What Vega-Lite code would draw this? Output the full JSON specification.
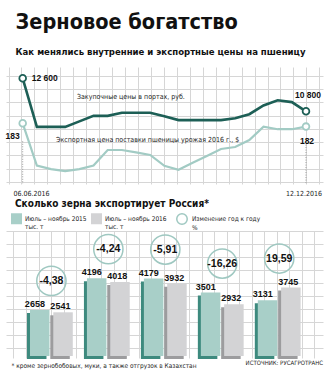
{
  "$schema": "https://vega.github.io/schema/vega-lite/v6.json",
  "background": "white",
  "padding": {"left": 5, "right": 5, "top": 12, "bottom": 4},
  "datasets": {
    "prices": [
      {"point": 0, "rub": 12600, "usd": 183},
      {"point": 1, "rub": 9950, "usd": 170.2},
      {"point": 2, "rub": 9950, "usd": 169.1},
      {"point": 3, "rub": 9950, "usd": 168.5},
      {"point": 4, "rub": 10250, "usd": 169.1},
      {"point": 5, "rub": 10550, "usd": 170.2},
      {"point": 6, "rub": 10550, "usd": 174.9},
      {"point": 7, "rub": 10720, "usd": 174.9},
      {"point": 8, "rub": 10720, "usd": 174.2},
      {"point": 9, "rub": 10720, "usd": 173.4},
      {"point": 10, "rub": 10530, "usd": 170.1},
      {"point": 11, "rub": 10320, "usd": 168.9},
      {"point": 12, "rub": 10320, "usd": 171},
      {"point": 13, "rub": 10320, "usd": 173.1},
      {"point": 14, "rub": 10320, "usd": 175.2},
      {"point": 15, "rub": 10420, "usd": 175.8},
      {"point": 16, "rub": 10640, "usd": 177.9},
      {"point": 17, "rub": 11120, "usd": 182},
      {"point": 18, "rub": 11400, "usd": 181.2},
      {"point": 19, "rub": 11300, "usd": 181.2},
      {"point": 20, "rub": 10800, "usd": 182}
    ],
    "exports": [
      {"group": 1, "period": "Июль – ноябрь 2015", "value": 2658},
      {"group": 1, "period": "Июль – ноябрь 2016", "value": 2541},
      {"group": 2, "period": "Июль – ноябрь 2015", "value": 4196},
      {"group": 2, "period": "Июль – ноябрь 2016", "value": 4018},
      {"group": 3, "period": "Июль – ноябрь 2015", "value": 4179},
      {"group": 3, "period": "Июль – ноябрь 2016", "value": 3932},
      {"group": 4, "period": "Июль – ноябрь 2015", "value": 3501},
      {"group": 4, "period": "Июль – ноябрь 2016", "value": 2932},
      {"group": 5, "period": "Июль – ноябрь 2015", "value": 3131},
      {"group": 5, "period": "Июль – ноябрь 2016", "value": 3745}
    ],
    "changes": [
      {"group": 1, "change": -4.38},
      {"group": 2, "change": -4.24},
      {"group": 3, "change": -5.91},
      {"group": 4, "change": -16.26},
      {"group": 5, "change": 19.59}
    ]
  },
  "title": {
    "text": "ИСТОЧНИК: РУСАГРОТРАНС",
    "orient": "bottom",
    "anchor": "end",
    "fontSize": 6,
    "fontWeight": "normal",
    "color": "#222",
    "offset": -9
  },
  "vconcat": [
    {
      "width": 317,
      "height": 117,
      "title": {
        "text": "Зерновое богатство",
        "subtitle": "Как менялись внутренние и экспортные цены на пшеницу",
        "anchor": "start",
        "font": "DejaVu Sans Condensed, Liberation Sans, sans-serif",
        "fontSize": 21.5,
        "fontWeight": "bold",
        "color": "#111",
        "subtitleFont": "DejaVu Sans Condensed, Liberation Sans, sans-serif",
        "subtitleFontSize": 9.5,
        "subtitleFontWeight": "bold",
        "subtitleColor": "#111",
        "subtitlePadding": 13,
        "dx": 10,
        "offset": 11
      },
      "data": {"name": "prices"},
      "layer": [
        {
          "encoding": {
            "x": {
              "field": "point", "type": "quantitative",
              "scale": {"domain": [-1.179, 21.2], "nice": false, "zero": false},
              "axis": {
                "orient": "top", "grid": true, "labels": false, "ticks": false, "domain": false, "title": null,
                "values": [-1.002, -0.088, 0.826, 1.74, 2.654, 3.569, 4.483, 5.397, 6.311, 7.226, 8.14, 9.054, 9.968, 10.882, 11.797, 12.711, 13.625, 14.539, 15.454, 16.368, 17.282, 18.196, 19.111, 20.025, 20.939]
              }
            },
            "y": {
              "field": "rub", "type": "quantitative",
              "scale": {"domain": [6834, 13216], "nice": false, "zero": false},
              "axis": {
                "grid": true, "labels": false, "ticks": false, "domain": false, "title": null,
                "values": [12742, 12016.5, 11291, 10565.5, 9840, 9114.5, 8389, 7663.5, 6938]
              }
            }
          },
          "layer": [
            {"mark": {"type": "line", "color": "#1d5f56", "strokeWidth": 2.6}},
            {
              "transform": [{"filter": "datum.point == 0 || datum.point == 20"}],
              "mark": {"type": "point", "filled": true, "fill": "white", "stroke": "#1d5f56", "strokeWidth": 1.8, "size": 45, "opacity": 1}
            },
            {
              "transform": [{"filter": "datum.point == 0"}],
              "mark": {"type": "text", "align": "left", "baseline": "middle", "dx": 9, "font": "Liberation Sans", "fontWeight": "bold", "fontSize": 8.5, "color": "#111"},
              "encoding": {"text": {"field": "rub", "type": "quantitative", "format": ",d"}}
            },
            {
              "transform": [{"filter": "datum.point == 20"}],
              "mark": {"type": "text", "align": "center", "baseline": "middle", "dx": 2, "dy": -16, "font": "Liberation Sans", "fontWeight": "bold", "fontSize": 8.5, "color": "#111"},
              "encoding": {"text": {"field": "rub", "type": "quantitative", "format": ",d"}}
            },
            {
              "transform": [{"filter": "datum.point == 4"}],
              "mark": {"type": "text", "align": "left", "baseline": "middle", "dx": -2.4, "dy": -24.4, "fontSize": 7, "color": "#222"},
              "encoding": {"text": {"value": "Закупочные цены в портах, руб."}}
            }
          ]
        },
        {
          "encoding": {
            "x": {
              "field": "point", "type": "quantitative",
              "scale": {"domain": [-1.179, 21.2], "nice": false, "zero": false},
              "axis": {
                "orient": "bottom", "grid": false, "ticks": false, "domain": false, "title": null,
                "values": [0.586, 19.82],
                "labelExpr": "datum.value < 10 ? '06.06.2016' : '12.12.2016'",
                "labelFontSize": 7, "labelColor": "#222", "labelPadding": 5, "labelFlush": false
              }
            },
            "y": {
              "field": "usd", "type": "quantitative",
              "scale": {"domain": [164.58, 200.08], "nice": false, "zero": false},
              "axis": null
            }
          },
          "layer": [
            {
              "transform": [{"filter": "datum.point == 0 || datum.point == 20"}],
              "mark": {"type": "rule", "color": "#9a9a9a", "strokeDash": [1, 1.5], "strokeWidth": 1, "yOffset": 18},
              "encoding": {"y2": {"datum": 164.58}}
            },
            {"mark": {"type": "line", "color": "#a2cbc4", "strokeWidth": 2.2}},
            {
              "transform": [{"filter": "datum.point == 0 || datum.point == 20"}],
              "mark": {"type": "point", "filled": true, "fill": "white", "stroke": "#a2cbc4", "strokeWidth": 1.8, "size": 45, "opacity": 1}
            },
            {
              "transform": [{"filter": "datum.point == 0"}],
              "mark": {"type": "text", "align": "center", "baseline": "middle", "dx": -10, "dy": 13, "font": "Liberation Sans", "fontWeight": "bold", "fontSize": 8.5, "color": "#111"},
              "encoding": {"text": {"field": "usd", "type": "quantitative", "format": "d"}}
            },
            {
              "transform": [{"filter": "datum.point == 20"}],
              "mark": {"type": "text", "align": "center", "baseline": "middle", "dx": 1, "dy": 14, "font": "Liberation Sans", "fontWeight": "bold", "fontSize": 8.5, "color": "#111"},
              "encoding": {"text": {"field": "usd", "type": "quantitative", "format": "d"}}
            },
            {
              "transform": [{"filter": "datum.point == 2"}],
              "mark": {"type": "text", "align": "left", "baseline": "middle", "dx": 5, "dy": -29, "fontSize": 7, "color": "#222"},
              "encoding": {"text": {"value": "Экспортная цена поставки пшеницы урожая 2016 г., $"}}
            }
          ]
        }
      ],
      "resolve": {"scale": {"y": "independent"}, "axis": {"x": "independent", "y": "independent"}}
    },
    {
      "width": 317,
      "height": 127,
      "title": {
        "text": "Сколько зерна экспортирует Россия*",
        "anchor": "start",
        "font": "DejaVu Sans Condensed, Liberation Sans, sans-serif",
        "fontSize": 10,
        "fontWeight": "bold",
        "color": "#111",
        "dx": 9,
        "offset": 4
      },
      "data": {"name": "exports"},
      "encoding": {
        "x": {
          "field": "group", "type": "quantitative",
          "scale": {"domain": [0.2909, 5.6811], "nice": false, "zero": false},
          "axis": {
            "grid": true, "labels": false, "ticks": false, "domain": false,
            "values": [0.3334, 0.5536, 0.7738, 0.994, 1.2142, 1.4344, 1.6546, 1.8748, 2.095, 2.3152, 2.5354, 2.7556, 2.9758, 3.196, 3.4162, 3.6364, 3.8566, 4.0768, 4.297, 4.5172, 4.7374, 4.9576, 5.1778, 5.398, 5.6182],
            "title": "* кроме зернобобовых, муки, а также отгрузок в Казахстан",
            "titleFontSize": 6.5,
            "titleFontWeight": "normal",
            "titleColor": "#222",
            "titleAnchor": "start",
            "titleAlign": "left",
            "titleX": 5,
            "titlePadding": 4
          }
        },
        "y": {
          "field": "value", "type": "quantitative",
          "scale": {"domain": [323, 6488], "nice": false, "zero": false},
          "axis": {
            "grid": true, "labels": false, "ticks": false, "domain": false, "title": null,
            "values": [6488, 5857, 5226, 4595, 3964, 3333, 2702, 2071, 1440, 809]
          }
        }
      },
      "layer": [
        {
          "transform": [{"filter": "datum.period == 'Июль – ноябрь 2015'"}],
          "mark": {"type": "bar", "width": 19.5, "xOffset": -14.65, "yOffset": 3, "y2Offset": 3, "color": "#3d8a7e"},
          "encoding": {"y2": {"datum": 420}}
        },
        {
          "transform": [{"filter": "datum.period == 'Июль – ноябрь 2016'"}],
          "mark": {"type": "bar", "width": 19.5, "xOffset": 8.65, "yOffset": 3, "y2Offset": 3, "color": "#9c9c9e"},
          "encoding": {"y2": {"datum": 420}}
        },
        {
          "transform": [{"filter": "datum.period == 'Июль – ноябрь 2015'"}],
          "mark": {"type": "bar", "width": 19.5, "xOffset": -11.65},
          "encoding": {
            "y2": {"datum": 420},
            "color": {
              "field": "period", "type": "nominal",
              "scale": {"domain": ["Июль – ноябрь 2015", "Июль – ноябрь 2016"], "range": ["#a8cfc8", "#d3d3d5"]},
              "legend": {
                "orient": "none", "legendX": 5, "legendY": -18, "direction": "horizontal", "title": null,
                "symbolType": "square", "symbolSize": 121, "symbolStrokeWidth": 0,
                "labelExpr": "[datum.label, 'тыс. т']", "labelFontSize": 6.5, "labelColor": "#222",
                "labelOffset": 3, "columnPadding": 4, "labelBaseline": "middle"
              }
            }
          }
        },
        {
          "transform": [{"filter": "datum.period == 'Июль – ноябрь 2016'"}],
          "mark": {"type": "bar", "width": 19.5, "xOffset": 11.65},
          "encoding": {
            "y2": {"datum": 420},
            "color": {"field": "period", "type": "nominal"}
          }
        },
        {
          "transform": [{"filter": "datum.period == 'Июль – ноябрь 2015'"}],
          "mark": {"type": "text", "xOffset": -16.5, "dy": -3, "baseline": "alphabetic", "font": "Liberation Sans", "fontWeight": "bold", "fontSize": 9, "color": "#111"},
          "encoding": {"text": {"field": "value", "type": "quantitative", "format": "d"}}
        },
        {
          "transform": [{"filter": "datum.period == 'Июль – ноябрь 2016'"}],
          "mark": {"type": "text", "xOffset": 9, "dy": -3, "baseline": "alphabetic", "font": "Liberation Sans", "fontWeight": "bold", "fontSize": 9, "color": "#111"},
          "encoding": {"text": {"field": "value", "type": "quantitative", "format": "d"}}
        },
        {
          "transform": [
            {"joinaggregate": [{"op": "max", "field": "value", "as": "top"}], "groupby": ["group"]},
            {"filter": "datum.period == 'Июль – ноябрь 2015'"},
            {"lookup": "group", "from": {"data": {"name": "changes"}, "key": "group", "fields": ["change"]}}
          ],
          "mark": {"type": "point", "shape": "circle", "size": 855, "strokeWidth": 1.5, "filled": false, "opacity": 1, "yOffset": -29},
          "encoding": {
            "y": {
              "field": "top", "type": "quantitative",
              "axis": {
                "grid": true, "labels": false, "ticks": false, "domain": false, "title": null,
                "values": [6488, 5857, 5226, 4595, 3964, 3333, 2702, 2071, 1440, 809]
              }
            },
            "stroke": {
              "datum": "Изменение год к году",
              "scale": {"range": ["#9fc8c1"]},
              "legend": {
                "orient": "none", "legendX": 170, "legendY": -18, "title": null,
                "symbolType": "circle", "symbolSize": 110, "symbolStrokeWidth": 1.5, "symbolFillColor": "white",
                "labelExpr": "[datum.label, '%']", "labelFontSize": 6.5, "labelColor": "#222",
                "labelOffset": 4, "labelBaseline": "middle"
              }
            }
          }
        },
        {
          "transform": [
            {"joinaggregate": [{"op": "max", "field": "value", "as": "top"}], "groupby": ["group"]},
            {"filter": "datum.period == 'Июль – ноябрь 2015'"},
            {"lookup": "group", "from": {"data": {"name": "changes"}, "key": "group", "fields": ["change"]}}
          ],
          "mark": {"type": "text", "baseline": "middle", "yOffset": -29, "font": "Liberation Sans", "fontWeight": "bold", "fontSize": 10.5, "color": "#111"},
          "encoding": {
            "y": {
              "field": "top", "type": "quantitative",
              "axis": {
                "grid": true, "labels": false, "ticks": false, "domain": false, "title": null,
                "values": [6488, 5857, 5226, 4595, 3964, 3333, 2702, 2071, 1440, 809]
              }
            },
            "text": {"field": "change", "type": "quantitative", "format": ".2f"}
          }
        }
      ]
    }
  ],
  "spacing": 3,
  "resolve": {
    "scale": {"color": "independent", "stroke": "independent"},
    "legend": {"color": "independent", "stroke": "independent"}
  },
  "config": {
    "view": {"stroke": null},
    "font": "DejaVu Sans Condensed, Liberation Sans, sans-serif",
    "locale": {
      "number": {"decimal": ",", "thousands": " ", "grouping": [3], "currency": ["", ""], "minus": "-"}
    },
    "axis": {"gridColor": "#d6d6d6", "gridWidth": 1}
  }
}
